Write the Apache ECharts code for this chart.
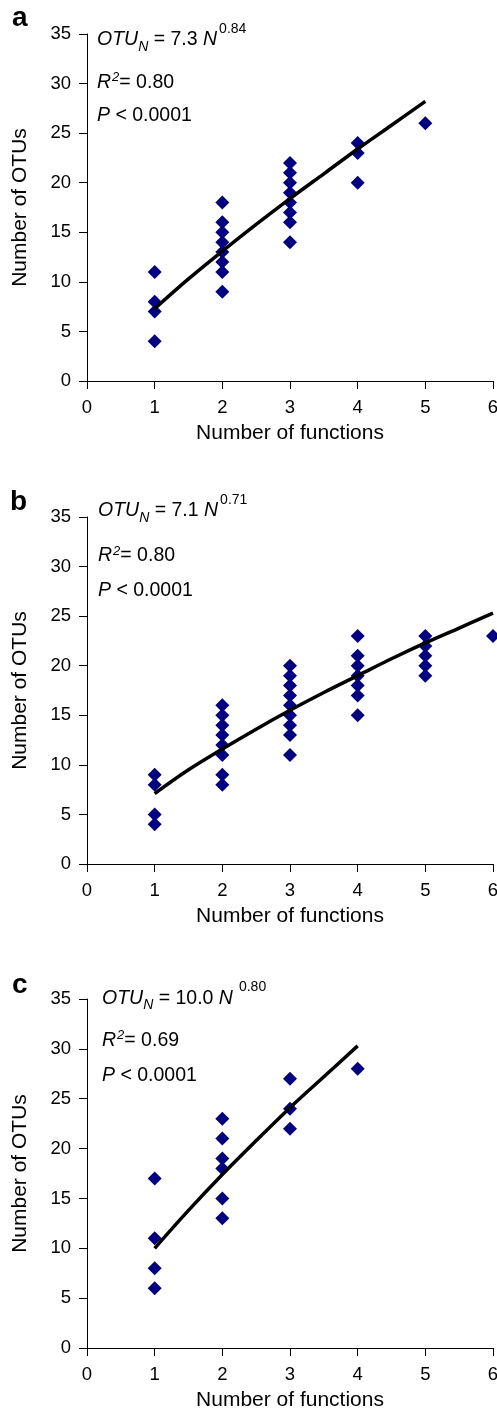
<!DOCTYPE html>
<html>
<head>
<meta charset="utf-8">
<script src="https://cdn.jsdelivr.net/npm/echarts@6/dist/echarts.min.js"></script>
<style>
html,body{margin:0;padding:0;background:#fff;}
#chart{width:497px;height:1410px;}
</style>
</head>
<body>
<div id="chart"></div>
<script>
// ---------- data ----------
const xTicks = [0, 1, 2, 3, 4, 5, 6];
const yTicks = [0, 5, 10, 15, 20, 25, 30, 35];
const panelLetters = ['a', 'b', 'c'];
const xAxisTitle = 'Number of functions';
const yAxisTitle = 'Number of OTUs';

const pointsA = [[1,11],[1,8],[1,7],[1,4],
  [2,18],[2,16],[2,15],[2,14],[2,13],[2,12],[2,11],[2,9],
  [3,22],[3,21],[3,20],[3,19],[3,18],[3,17],[3,16],[3,14],
  [4,24],[4,23],[4,20],[5,26]];
const fitA = [[1,7.3],[1.5,10.3],[2,13.1],[2.5,15.8],[3,18.4],[3.5,20.9],[4,23.4],[4.5,25.8],[5,28.2]];

const pointsB = [[1,9],[1,8],[1,5],[1,4],
  [2,16],[2,15],[2,14],[2,13],[2,12],[2,11],[2,9],[2,8],
  [3,20],[3,19],[3,18],[3,17],[3,16],[3,15],[3,14],[3,13],[3,11],
  [4,23],[4,21],[4,20],[4,19],[4,18],[4,17],[4,15],
  [5,23],[5,22],[5,21],[5,20],[5,19],[6,23]];
const fitB = [[1,7.1],[1.5,9.5],[2,11.6],[2.5,13.6],[3,15.5],[3.5,17.3],[4,19.0],[4.5,20.7],[5,22.3],[5.5,23.8],[6,25.3]];

const pointsC = [[1,17],[1,11],[1,8],[1,6],
  [2,23],[2,21],[2,19],[2,18],[2,15],[2,13],
  [3,27],[3,24],[3,22],[4,28]];
const fitC = [[1,10.0],[1.5,13.8],[2,17.4],[2.5,20.8],[3,24.1],[3.5,27.2],[4,30.3]];

const eqCoef = ['7.3', '7.1', '10.0'];
const eqExp = ['0.84', '0.71', '0.80'];
const r2Vals = ['0.80', '0.80', '0.69'];
const pText = 'P';
const pVal = '< 0.0001';

// ---------- layout ----------
const FONT = '"Liberation Sans", Arial, Helvetica, sans-serif';
const grids = [
  {left: 87, top: 34, width: 406, height: 347, outerBoundsMode: 'none', containLabel: false},
  {left: 87, top: 517, width: 406, height: 347, outerBoundsMode: 'none', containLabel: false},
  {left: 87, top: 999, width: 406, height: 349, outerBoundsMode: 'none', containLabel: false}
];
const eqPos = [
  {x: 97, b1: 46.7, b2: 89.3, b3: 122.7, gapN: 0},
  {x: 98, b1: 517.7, b2: 562.7, b3: 597.7, gapN: 0},
  {x: 102, b1: 1005, b2: 1047.3, b3: 1082, gapN: 4}
];
const letterPos = [{x: 12, b: 28.3}, {x: 10, b: 511.7}, {x: 12, b: 995}];

const cv = document.createElement('canvas').getContext('2d');
function measure(t, size, italic, bold) {
  cv.font = (italic ? 'italic ' : '') + (bold ? 'bold ' : '') + size + 'px ' + FONT;
  return cv.measureText(t).width;
}
function textEl(t, x, baseline, size, italic, bold) {
  return {
    type: 'text', x: x, y: baseline - 0.3465 * size, silent: true,
    style: {
      text: t, fontSize: size, fontFamily: FONT,
      fontStyle: italic ? 'italic' : 'normal', fontWeight: bold ? 'bold' : 'normal',
      fill: '#000', align: 'left', verticalAlign: 'middle'
    }
  };
}
function lineParts(x, baseline, parts) {
  const out = [];
  let cx = x;
  parts.forEach(p => {
    cx += (p.pre || 0);
    out.push(textEl(p.t, cx, baseline + (p.dy || 0), p.s, p.it));
    cx += measure(p.t, p.s, p.it);
  });
  return out;
}

const MAIN = 19.5, SMALL = 14;
const graphics = [];
for (let i = 0; i < 3; i++) {
  const e = eqPos[i];
  graphics.push(...lineParts(e.x, e.b1, [
    {t: 'OTU', s: MAIN, it: true},
    {t: 'N', s: SMALL, it: true, dy: 5},
    {t: ' = ' + eqCoef[i] + ' ', s: MAIN},
    {t: 'N', s: MAIN, it: true},
    {t: eqExp[i], s: SMALL, dy: -13, pre: 2 + e.gapN}
  ]));
  graphics.push(...lineParts(e.x, e.b2, [
    {t: 'R', s: MAIN, it: true},
    {t: '2', s: 13, it: true, dy: -7, pre: 1},
    {t: '= ' + r2Vals[i], s: MAIN}
  ]));
  graphics.push(...lineParts(e.x, e.b3, [
    {t: pText, s: MAIN, it: true},
    {t: ' ' + pVal, s: MAIN}
  ]));
  graphics.push(textEl(panelLetters[i], letterPos[i].x, letterPos[i].b, 28, false, true));
}

const xAxes = [], yAxes = [], series = [];
const allPoints = [pointsA, pointsB, pointsC];
const allFits = [fitA, fitB, fitC];
for (let i = 0; i < 3; i++) {
  xAxes.push({
    gridIndex: i, type: 'value',
    min: xTicks[0], max: xTicks[xTicks.length - 1], interval: xTicks[1] - xTicks[0],
    name: xAxisTitle, nameLocation: 'middle', nameGap: 42,
    nameTextStyle: {fontSize: 21, color: '#000', fontFamily: FONT},
    axisLine: {show: true, onZero: false, lineStyle: {color: '#000', width: 1}},
    axisTick: {show: true, length: 8, lineStyle: {color: '#000', width: 1}},
    axisLabel: {fontSize: 18.5, color: '#000', margin: 17, fontFamily: FONT, showMaxLabel: true, showMinLabel: true},
    splitLine: {show: false}
  });
  yAxes.push({
    gridIndex: i, type: 'value',
    min: yTicks[0], max: yTicks[yTicks.length - 1], interval: yTicks[1] - yTicks[0],
    name: yAxisTitle, nameLocation: 'middle', nameGap: 56, nameRotate: 90,
    nameTextStyle: {fontSize: 21, color: '#000', fontFamily: FONT},
    axisLine: {show: true, onZero: false, lineStyle: {color: '#000', width: 1}},
    axisTick: {show: true, length: 8, lineStyle: {color: '#000', width: 1}},
    axisLabel: {fontSize: 18.5, color: '#000', margin: 16, fontFamily: FONT},
    splitLine: {show: false}
  });
  series.push({
    type: 'scatter', xAxisIndex: i, yAxisIndex: i, data: allPoints[i],
    symbol: 'diamond', symbolSize: 14, clip: false,
    itemStyle: {color: '#000080', opacity: 1}, silent: true, z: 2
  });
  series.push({
    type: 'line', xAxisIndex: i, yAxisIndex: i, data: allFits[i],
    smooth: 0.35, showSymbol: false, symbol: 'none', clip: false,
    lineStyle: {color: '#000', width: 3.5}, silent: true, z: 3
  });
}

const chart = echarts.init(document.getElementById('chart'), null, {renderer: 'canvas'});
chart.setOption({
  animation: false,
  backgroundColor: '#fff',
  textStyle: {fontFamily: FONT},
  grid: grids,
  xAxis: xAxes,
  yAxis: yAxes,
  series: series,
  graphic: graphics
});
</script>
</body>
</html>
